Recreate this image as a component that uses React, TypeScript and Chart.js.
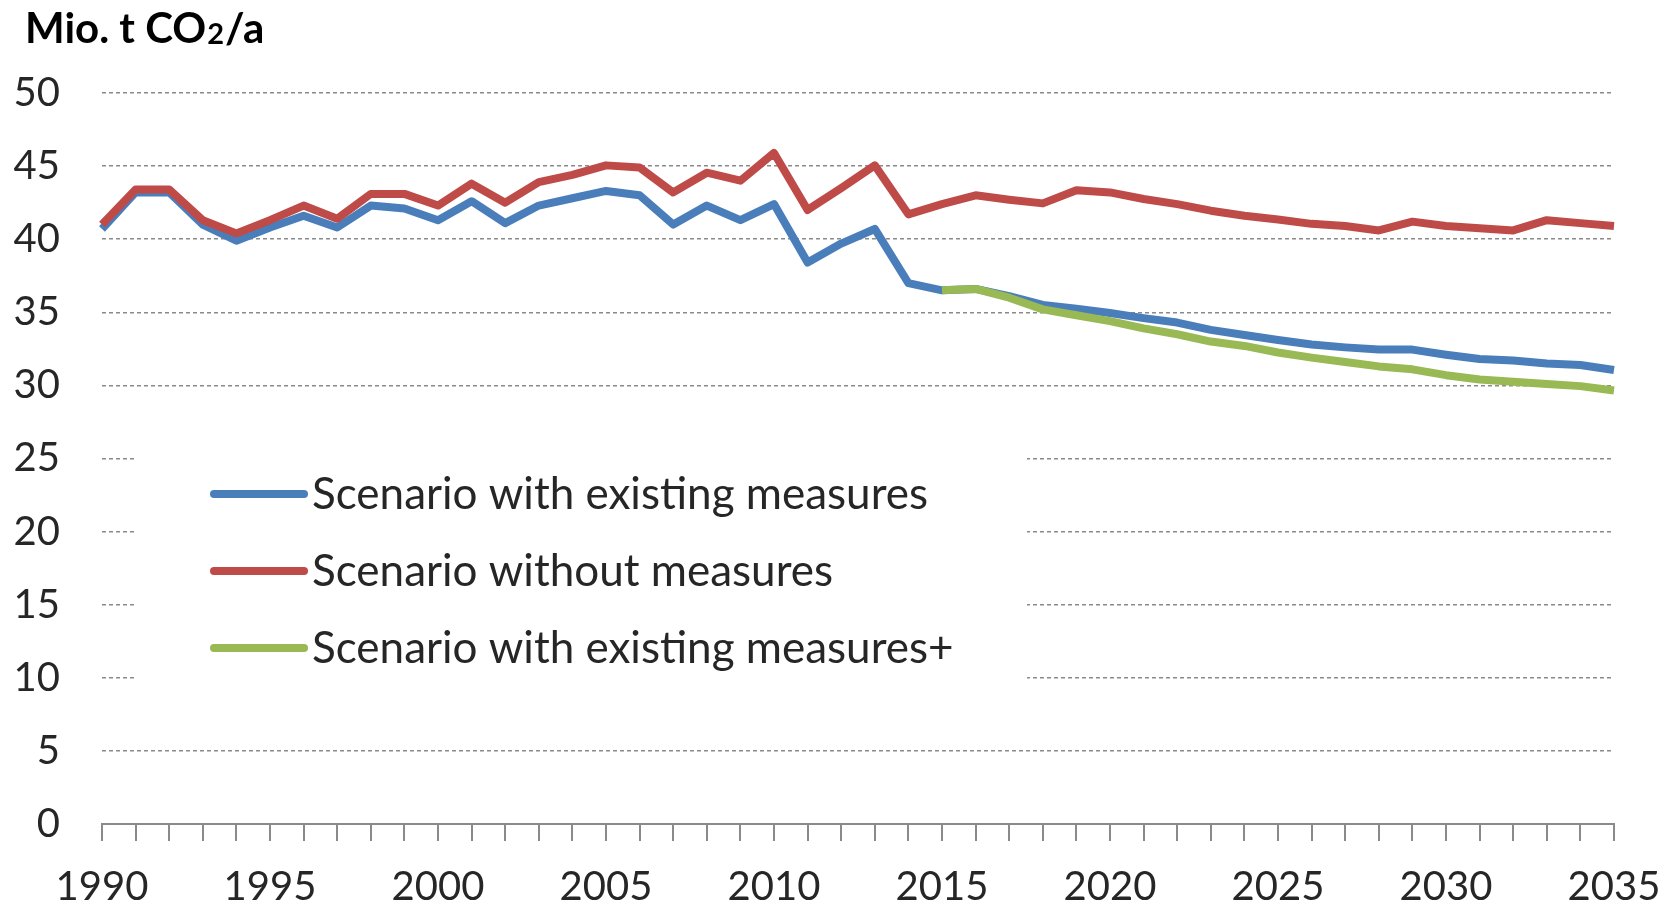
import React, { useEffect, useRef } from "react";
import { Chart, registerables } from "chart.js";

Chart.register(...registerables);

// ---- data ----
const years = [
  "1990", "1991", "1992", "1993", "1994", "1995", "1996", "1997", "1998", "1999",
  "2000", "2001", "2002", "2003", "2004", "2005", "2006", "2007", "2008", "2009",
  "2010", "2011", "2012", "2013", "2014", "2015", "2016", "2017", "2018", "2019",
  "2020", "2021", "2022", "2023", "2024", "2025", "2026", "2027", "2028", "2029",
  "2030", "2031", "2032", "2033", "2034", "2035",
];

const xTickLabels = ["1990", "1995", "2000", "2005", "2010", "2015", "2020", "2025", "2030", "2035"];

const withExistingMeasures = [
  40.7, 43.2, 43.2, 41.0, 39.9, 40.8, 41.6, 40.8, 42.3, 42.1,
  41.3, 42.6, 41.1, 42.3, 42.8, 43.3, 43.0, 41.0, 42.3, 41.3,
  42.4, 38.4, 39.7, 40.7, 37.0, 36.5, 36.6, 36.1, 35.5, 35.25,
  34.95, 34.6, 34.3, 33.8, 33.45, 33.1, 32.8, 32.6, 32.45, 32.45,
  32.1, 31.8, 31.7, 31.5, 31.4, 31.05,
];

const withoutMeasures = [
  41.0, 43.4, 43.4, 41.3, 40.4, 41.3, 42.3, 41.4, 43.1, 43.1,
  42.3, 43.8, 42.5, 43.9, 44.4, 45.05, 44.9, 43.2, 44.55, 44.0,
  45.9, 42.0, 43.5, 45.05, 41.7, 42.4, 43.0, 42.7, 42.45, 43.35,
  43.2, 42.75, 42.4, 41.95, 41.6, 41.35, 41.05, 40.9, 40.6, 41.2,
  40.9, 40.75, 40.6, 41.3, 41.1, 40.9,
];

const withExistingMeasuresPlus = [
  null, null, null, null, null, null, null, null, null, null,
  null, null, null, null, null, null, null, null, null, null,
  null, null, null, null, null, 36.5, 36.6, 36.0, 35.2, 34.8,
  34.4, 33.9, 33.5, 33.0, 32.7, 32.25, 31.9, 31.6, 31.3, 31.1,
  30.7, 30.4, 30.25, 30.1, 29.95, 29.65,
];

const seriesLabels = [
  "Scenario with existing measures",
  "Scenario without measures",
  "Scenario with existing measures+",
];

const seriesColors = ["#4a7ebb", "#be4b48", "#98b954"];

const unitMain = "Mio. t CO";
const unitSub = "2";
const unitTail = "/a";

const FONT = "Lato, 'Open Sans', sans-serif";

const decorPlugin = {
  id: "decor",
  afterDraw(chart: any) {
    const ctx = chart.ctx;
    ctx.save();
    // title (unit)
    ctx.fillStyle = "#000";
    ctx.textBaseline = "alphabetic";
    ctx.textAlign = "left";
    let x = 25;
    const base = 43;
    ctx.font = `bold 42px ${FONT}`;
    ctx.fillText(unitMain, x, base);
    x += ctx.measureText(unitMain).width + 1;
    ctx.font = `bold 29px ${FONT}`;
    ctx.fillText(unitSub, x, base + 1);
    x += ctx.measureText(unitSub).width + 1;
    ctx.font = `bold 42px ${FONT}`;
    ctx.fillText(unitTail, x, base);

    // legend box
    ctx.fillStyle = "#ffffff";
    ctx.fillRect(136, 425, 891, 280);
    const rows = [494, 571, 648];
    chart.data.datasets.forEach((ds: any, i: number) => {
      const y = rows[i];
      ctx.strokeStyle = ds.borderColor;
      ctx.lineWidth = 8;
      ctx.lineCap = "round";
      ctx.beginPath();
      ctx.moveTo(214, y);
      ctx.lineTo(304, y);
      ctx.stroke();
      ctx.fillStyle = "#262626";
      ctx.font = `44px ${FONT}`;
      ctx.textBaseline = "alphabetic";
      ctx.fillText(ds.label, 312, y + 15);
    });
    ctx.restore();
  },
};

export default function App() {
  const canvasRef = useRef<HTMLCanvasElement | null>(null);

  useEffect(() => {
    if (!canvasRef.current) return;
    const chart = new Chart(canvasRef.current, {
      type: "line",
      data: {
        labels: years,
        datasets: [
          {
            label: seriesLabels[0],
            data: withExistingMeasures,
            borderColor: seriesColors[0],
            backgroundColor: seriesColors[0],
            order: 2,
          },
          {
            label: seriesLabels[1],
            data: withoutMeasures,
            borderColor: seriesColors[1],
            backgroundColor: seriesColors[1],
            order: 1,
          },
          {
            label: seriesLabels[2],
            data: withExistingMeasuresPlus,
            borderColor: seriesColors[2],
            backgroundColor: seriesColors[2],
            order: 0,
          },
        ],
      },
      options: {
        animation: false,
        responsive: true,
        maintainAspectRatio: false,
        devicePixelRatio: 1,
        layout: { padding: { top: 93, right: 53, left: 0, bottom: 0 } },
        elements: {
          line: { borderWidth: 8, tension: 0, borderJoinStyle: "round", borderCapStyle: "butt" },
          point: { radius: 0, hoverRadius: 0 },
        },
        plugins: {
          legend: { display: false },
          tooltip: { enabled: false },
          title: { display: false },
        },
        scales: {
          x: {
            type: "category",
            offset: false,
            grid: {
              drawOnChartArea: false,
              drawTicks: true,
              tickLength: 17,
              color: "#8a8a8a",
              lineWidth: 2,
            },
            border: { display: true, color: "#8a8a8a", width: 2 },
            ticks: {
              autoSkip: false,
              maxRotation: 0,
              minRotation: 0,
              padding: 4,
              color: "#262626",
              font: { family: FONT, size: 40, lineHeight: 2.1 },
              callback: (_v: any, i: number) =>
                xTickLabels.includes(years[i]) ? years[i] : "",
            },
            afterFit: (scale: any) => {
              scale.height = 80;
            },
          },
          y: {
            min: 0,
            max: 50,
            grid: {
              drawTicks: false,
              color: (c: any) => (c.tick && c.tick.value === 0 ? "rgba(0,0,0,0)" : "#8a8a8a"),
              lineWidth: 1.5,
            },
            border: { display: false, dash: [4, 3] },
            ticks: {
              stepSize: 5,
              padding: 42,
              color: "#262626",
              font: { family: FONT, size: 40 },
            },
            afterFit: (scale: any) => {
              scale.width = 102;
            },
          },
        },
      },
      plugins: [decorPlugin],
    });
    return () => chart.destroy();
  }, []);

  return (
    <div
      style={{
        position: "fixed",
        left: 0,
        top: 0,
        width: 1667,
        height: 904,
        background: "#ffffff",
      }}
    >
      <canvas ref={canvasRef} />
    </div>
  );
}
